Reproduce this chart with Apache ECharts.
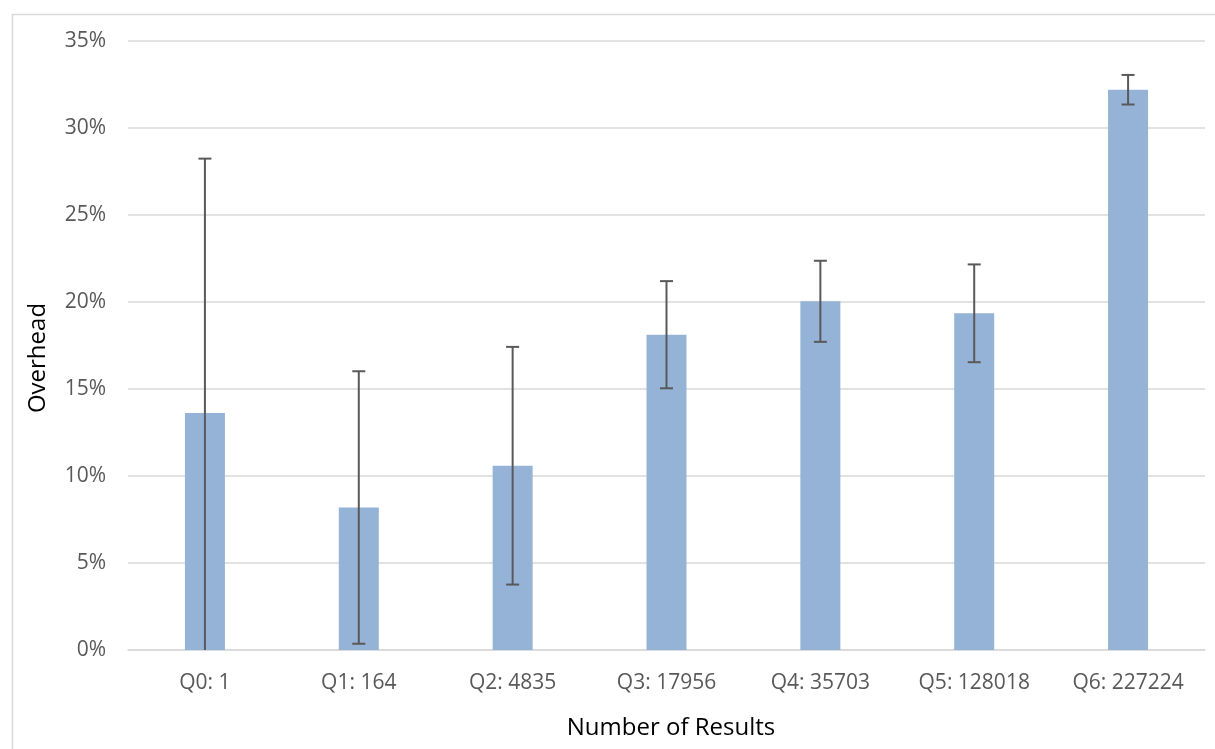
<!DOCTYPE html>
<html>
<head>
<meta charset="utf-8">
<script src="https://cdn.jsdelivr.net/npm/echarts@6/dist/echarts.min.js"></script>
<style>
  html, body { margin: 0; padding: 0; background: #ffffff; }
  #chart { width: 1215px; height: 749px; }
</style>
</head>
<body>
<div id="chart"></div>
<script>
// ---- data ----
const categories = ['Q0: 1', 'Q1: 164', 'Q2: 4835', 'Q3: 17956', 'Q4: 35703', 'Q5: 128018', 'Q6: 227224'];
const overhead = [13.62, 8.19, 10.59, 18.12, 20.04, 19.35, 32.20];      // percent
const errorAmount = [14.62, 7.83, 6.83, 3.08, 2.33, 2.81, 0.85];        // +/- percent
const yTicks = { min: 0, max: 35, interval: 5 };
const xTitle = 'Number of Results';
const yTitle = 'Overhead';

const FONT = "'Open Sans', 'Liberation Sans', sans-serif";
const errorData = overhead.map((v, i) => [i, v - errorAmount[i], v + errorAmount[i]]);

const chart = echarts.init(document.getElementById('chart'), null, { renderer: 'canvas' });

chart.setOption({
  animation: false,
  backgroundColor: '#ffffff',
  grid: { left: 128, right: 10, top: 41, bottom: 99, containLabel: false },
  xAxis: {
    type: 'category',
    data: categories,
    axisLine: { show: true, lineStyle: { color: '#d9d9d9', width: 1.5 } },
    axisTick: { show: false },
    axisLabel: { color: '#595959', fontFamily: FONT, fontSize: 21, margin: 23 },
    splitLine: { show: false }
  },
  yAxis: {
    type: 'value',
    min: yTicks.min, max: yTicks.max, interval: yTicks.interval,
    axisLine: { show: false },
    axisTick: { show: false },
    axisLabel: { color: '#595959', fontFamily: FONT, fontSize: 21, margin: 22, formatter: '{value}%' },
    splitLine: { show: true, lineStyle: { color: '#d9d9d9', width: 1.5 } }
  },
  graphic: [
    { type: 'rect', left: 10, top: 12, shape: { width: 1230, height: 770 },
      style: { fill: 'none', stroke: '#d9d9d9', lineWidth: 1.5 }, silent: true, z: -10 },
    { type: 'text', x: 671, y: 728,
      style: { text: xTitle, font: '24px ' + FONT, fill: '#000000', align: 'center', verticalAlign: 'middle' } },
    { type: 'text', x: 38, y: 358, rotation: Math.PI / 2,
      style: { text: yTitle, font: '24px ' + FONT, fill: '#000000', align: 'center', verticalAlign: 'middle' } }
  ],
  series: [
    {
      type: 'bar',
      data: overhead,
      barWidth: 40,
      itemStyle: { color: '#95b3d7' },
      z: 2
    },
    {
      type: 'custom',
      data: errorData,
      z: 5,
      renderItem: function (params, api) {
        const i = api.value(0);
        const lo = api.value(1);
        const hi = api.value(2);
        const loC = Math.max(lo, yTicks.min);
        const pTop = api.coord([i, hi]);
        const pBot = api.coord([i, loC]);
        const half = 6.5;
        const style = { stroke: '#595959', lineWidth: 2 };
        const children = [
          { type: 'line', shape: { x1: pTop[0], y1: pTop[1], x2: pBot[0], y2: pBot[1] }, style: style },
          { type: 'line', shape: { x1: pTop[0] - half, y1: pTop[1], x2: pTop[0] + half, y2: pTop[1] }, style: style }
        ];
        if (lo >= yTicks.min) {
          children.push({ type: 'line', shape: { x1: pBot[0] - half, y1: pBot[1], x2: pBot[0] + half, y2: pBot[1] }, style: style });
        }
        return { type: 'group', children: children };
      }
    }
  ]
});
</script>
</body>
</html>
